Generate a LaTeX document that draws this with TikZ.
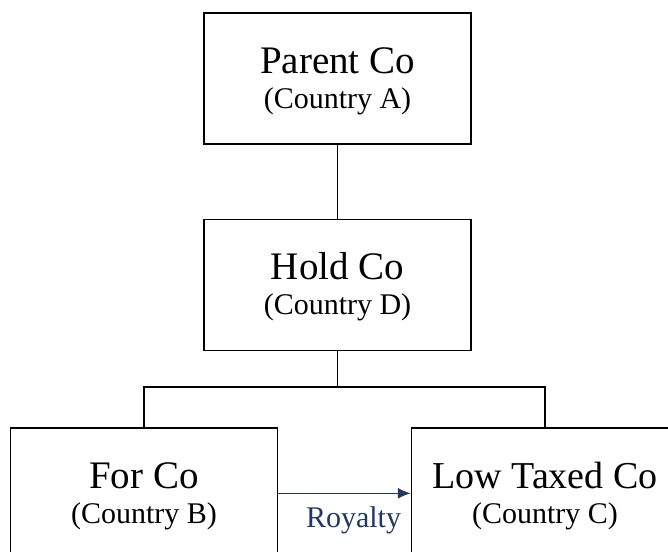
\documentclass[tikz,border=0pt]{standalone}
\usepackage{fontspec}
\setmainfont{Liberation Serif}
\usepackage{tikz}
\usetikzlibrary{positioning,arrows.meta}

\definecolor{royalnavy}{HTML}{1F3864}

\begin{document}
\begin{tikzpicture}[
  x=1pt, y=-1pt,
  node distance=74pt,
  font=\fontsize{30}{35}\selectfont,
  entity/.style={draw, line width=1.4pt, align=center, minimum width=267pt, minimum height=131pt, inner sep=0pt},
  link/.style={line width=1.4pt},
  flow/.style={-{Latex[length=13pt,width=11pt]}, line width=1.5pt, draw=royalnavy, fill=royalnavy}
]
\clip (0,0) rectangle (668,551);
\node[entity] (parent) at (337.5,78.5) {\rule{0pt}{31pt}{\fontsize{39}{35}\selectfont Parent Co}\\(Country A)};
\node[entity, below=of parent] (hold) {\rule{0pt}{31pt}{\fontsize{39}{35}\selectfont Hold Co}\\(Country D)};
\node[entity, below=76pt of hold, xshift=-193.5pt] (forco) {\rule{0pt}{31pt}{\fontsize{39}{35}\selectfont For Co}\\(Country B)};
\node[entity, below=76pt of hold, xshift=207.5pt] (lowco) {\rule{0pt}{31pt}{\fontsize{38}{35}\selectfont Low Taxed Co}\\(Country C)};
\coordinate (bar) at (337.5,387);

\draw[link] (parent) -- (hold);
\draw[link] (hold) -- (bar);
\draw[link] (forco.north) |- (bar) -| (lowco.north);
\draw[flow] (forco) -- node[below=9pt, xshift=9pt, text=royalnavy] {Royalty} (lowco);
\end{tikzpicture}
\end{document}
